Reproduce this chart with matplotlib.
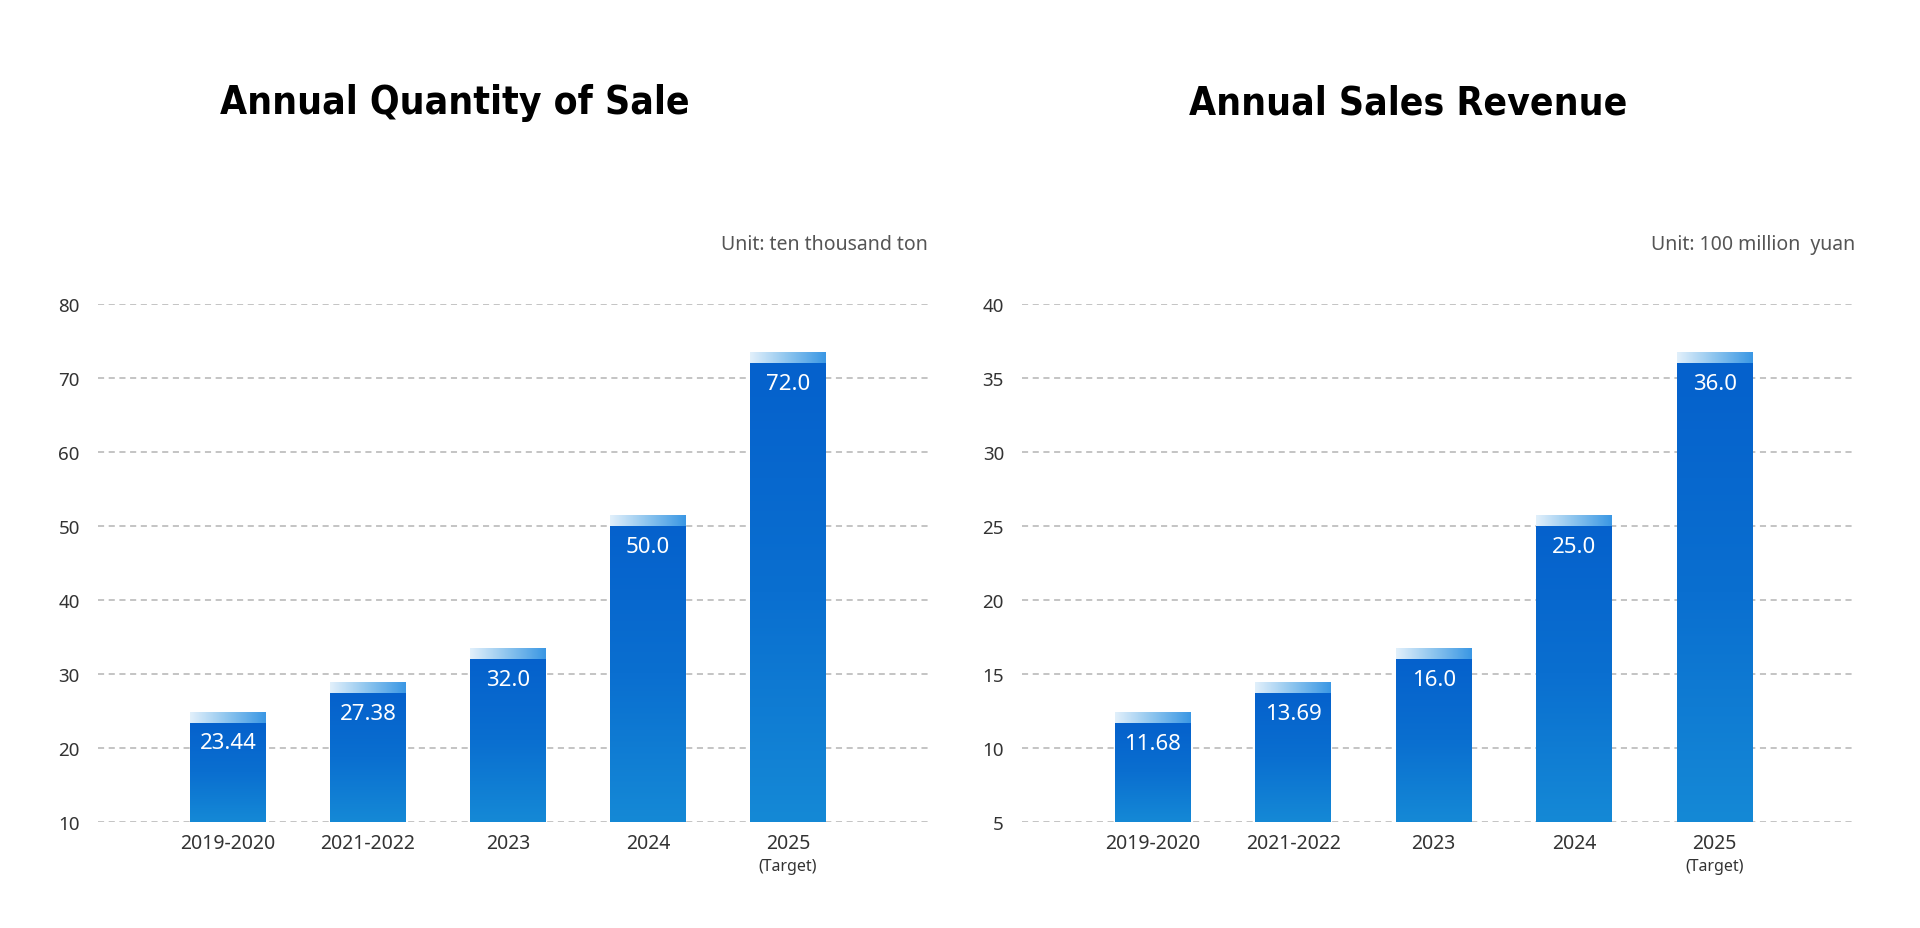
import matplotlib
matplotlib.use("Agg")
import matplotlib.pyplot as plt
import numpy as np
from matplotlib.colors import LinearSegmentedColormap
import matplotlib.transforms as mtransforms

# ---- data ----
categories = ["2019-2020", "2021-2022", "2023", "2024", "2025"]
target_note = "(Target)"
qty_values = [23.44, 27.38, 32.0, 50.0, 72.0]
qty_labels = ["23.44", "27.38", "32.0", "50.0", "72.0"]
qty_ticks = [10, 20, 30, 40, 50, 60, 70, 80]
rev_values = [11.68, 13.69, 16.0, 25.0, 36.0]
rev_labels = ["11.68", "13.69", "16.0", "25.0", "36.0"]
rev_ticks = [5, 10, 15, 20, 25, 30, 35, 40]
titles = ["Annual Quantity of Sale", "Annual Sales Revenue"]
units = ["Unit: ten thousand ton", "Unit: 100 million  yuan"]

plt.rcParams['font.family'] = ['Noto Sans', 'DejaVu Sans']

fig = plt.figure(figsize=(19.2, 9.29), dpi=100)
fig.patch.set_facecolor("white")

body_cmap = LinearSegmentedColormap.from_list("body", ["#1589d6", "#0a6fd0", "#0561cc"])
cap_cmap = LinearSegmentedColormap.from_list("cap", ["#e2f0fb", "#8cc4ee", "#3a97e4"])

panels = [
    dict(rect=[0.051, 0.1141, 0.4323, 0.5576], values=qty_values, labels=qty_labels,
         ticks=qty_ticks, title=titles[0], unit=units[0], cx=455 / 1920),
    dict(rect=[0.5323, 0.1141, 0.4339, 0.5576], values=rev_values, labels=rev_labels,
         ticks=rev_ticks, title=titles[1], unit=units[1], cx=1408 / 1920),
]

for p in panels:
    ax = fig.add_axes(p["rect"])
    ticks = p["ticks"]
    y0, y1 = ticks[0], ticks[-1]
    ax.set_xlim(-0.93, 5.0)
    ax.set_ylim(y0, y1)
    for s in ax.spines.values():
        s.set_visible(False)
    ax.set_yticks(ticks)
    ax.set_yticklabels([str(t) for t in ticks], fontsize=13.5, color="#333333")
    ax.tick_params(axis="y", length=0, pad=13)
    x = np.arange(len(categories))
    ax.set_xticks(x)
    ax.set_xticklabels(categories, fontsize=14, color="#333333")
    ax.tick_params(axis="x", length=0, pad=8)
    ax.grid(axis="y", color="#b4b4b4", linestyle=(0, (4, 3)), linewidth=1.1)
    ax.set_axisbelow(True)

    span = y1 - y0
    cap_h = span * 0.0195
    width = 0.54
    bars = ax.bar(x, np.array(p["values"]) - y0, bottom=y0, width=width,
                  color="none", edgecolor="none", zorder=3)
    grad_v = np.linspace(0, 1, 256).reshape(-1, 1)
    grad_h = np.linspace(0, 1, 256).reshape(1, -1)
    for xi, b, v, lab in zip(x, bars, p["values"], p["labels"]):
        left = b.get_x()
        right = left + b.get_width()
        im = ax.imshow(grad_v, cmap=body_cmap, extent=[left, right, y0, v],
                       origin="lower", aspect="auto", zorder=3, interpolation="bicubic")
        im.set_clip_path(b)
        ax.imshow(grad_h, cmap=cap_cmap, extent=[left, right, v, v + cap_h],
                  origin="lower", aspect="auto", zorder=3, interpolation="bicubic")
        ax.annotate(lab, xy=(xi, v), xytext=(0, -7), textcoords="offset points",
                    ha="center", va="top", color="white", fontsize=16, zorder=4)
    ax.set_xlim(-0.93, 5.0)
    ax.set_ylim(y0, y1)

    trans = mtransforms.blended_transform_factory(ax.transData, ax.transAxes)
    ax.annotate(target_note, xy=(x[-1], 0), xycoords=trans, xytext=(0, -26),
                textcoords="offset points", ha="center", va="top",
                fontsize=11.5, color="#333333")

    ax.text(1.0, 1.115, p["unit"], transform=ax.transAxes, ha="right", va="center",
            fontsize=14, color="#555555")

    fig.text(p["cx"], 0.889, p["title"], ha="center", va="center",
             fontsize=28, fontweight="bold", fontstretch="condensed", color="black",
             family=["DejaVu Sans"])

fig.savefig("out.png", dpi=100, facecolor="white")
